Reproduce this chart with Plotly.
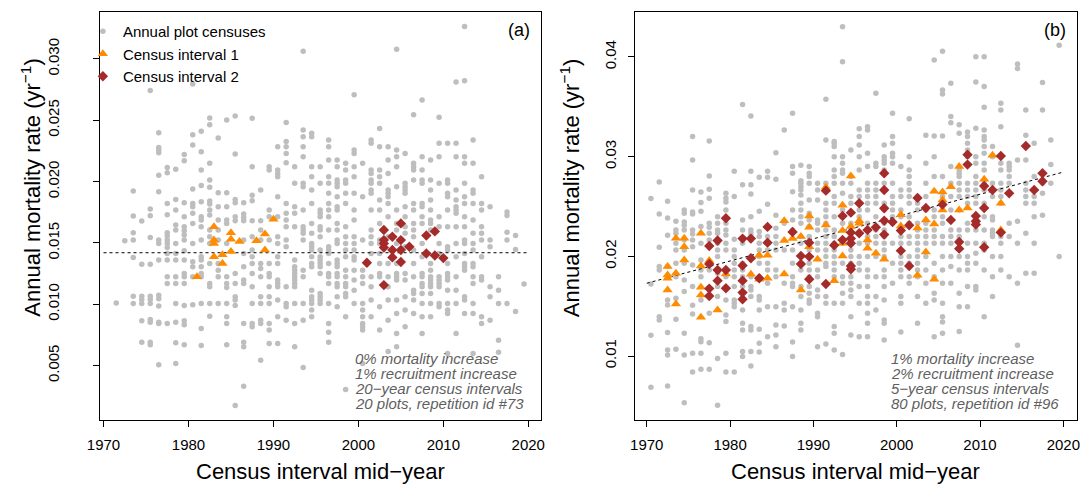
import plotly.graph_objects as go

# ---------------- Panel (a) data (mortality rates in per-mille, yr^-1 x 1000) ----------------
a_gray_years = [1971.5, 1972.5, 1973.5, 1974.5, 1975.5, 1976.5, 1977.5, 1978.5, 1979.5, 1980.5,
                1981.5, 1982.5, 1983.5, 1984.5, 1985.5, 1986.5, 1987.5, 1988.5, 1989.5, 1990.5,
                1991.5, 1992.5, 1993.5, 1994.5, 1995.5, 1996.5, 1997.5, 1998.5, 1999.5, 2000.5,
                2001.5, 2002.5, 2003.5, 2004.5, 2005.5, 2006.5, 2007.5, 2008.5, 2009.5, 2010.5,
                2011.5, 2012.5, 2013.5, 2014.5, 2015.5, 2016.5, 2017.5, 2018.5, 2019.5]
a_gray_permille = [
    [10.1],
    [15.18],
    [19.23, 17.19, 15.83, 15.23, 13.82, 10.66, 10.06],
    [16.78, 13.27, 10.66, 10.39, 10.06, 8.65, 6.91],
    [27.42, 17.76, 17.22, 15.45, 13.27, 10.66, 10.39, 10.06, 8.76, 8.54, 6.91, 6.69],
    [23.99, 22.79, 22.58, 22.36, 20.51, 19.18, 15.23, 14.96, 13.60, 10.74, 10.44, 9.85, 8.54, 8.43, 5.06],
    [21.16, 20.73, 18.22, 17.30, 15.83, 15.56, 15.23, 14.96, 14.63, 14.14, 13.60, 12.24, 11.70, 8.43],
    [21.00, 18.55, 17.68, 16.46, 16.05, 14.96, 14.14, 13.60, 12.24, 11.70, 10.06, 8.54, 6.85, 5.17],
    [22.20, 21.71, 18.28, 17.14, 16.32, 15.99, 15.64, 15.23, 14.36, 13.60, 12.51, 12.24, 11.70, 9.90, 8.65, 8.32, 6.69],
    [27.96, 23.83, 22.98, 19.39, 18.22, 17.95, 17.41, 16.59, 14.96, 13.46, 13.06, 12.24, 9.96],
    [24.10, 22.44, 20.94, 19.69, 18.36, 17.14, 16.86, 16.32, 15.23, 13.87, 13.60, 13.06, 12.51, 12.24, 10.06, 8.02, 6.64],
    [25.19, 24.64, 21.49, 20.13, 19.53, 18.41, 18.17, 17.68, 17.27, 16.05, 15.50, 14.96, 13.33, 11.70, 11.42, 10.06, 9.03],
    [23.56, 19.09, 17.95, 16.86, 16.05, 15.23, 13.33, 12.78, 12.24, 10.06],
    [25.02, 19.09, 17.95, 16.86, 16.59, 14.96, 12.24, 11.70, 11.37, 10.06, 8.98, 8.43, 6.69],
    [25.35, 22.25, 18.55, 18.28, 17.14, 16.81, 12.51, 11.70, 10.61, 10.34, 9.90, 1.74],
    [18.28, 17.35, 17.08, 16.81, 15.23, 14.14, 13.06, 11.97, 11.70, 8.43, 6.91, 6.53, 3.32],
    [25.16, 21.22, 18.88, 18.44, 16.81, 15.50, 14.42, 13.87, 13.33, 12.51, 11.42, 10.06, 8.43, 8.16],
    [19.31, 16.81, 16.05, 15.23, 13.33, 12.92, 12.24, 10.61, 10.06, 8.70, 8.43, 5.44],
    [21.22, 20.94, 17.68, 17.14, 15.23, 13.33, 12.51, 12.24, 11.42, 10.61, 10.06, 8.43, 7.89, 6.80],
    [22.85, 20.94, 20.67, 20.40, 18.77, 17.14, 15.50, 14.96, 13.87, 13.33, 11.97, 11.70, 11.42, 10.34, 8.98, 6.80],
    [24.81, 23.26, 22.85, 22.30, 21.54, 18.22, 17.41, 16.86, 16.32, 15.23, 14.69, 11.42, 10.06, 9.79, 8.70],
    [21.22, 19.86, 17.95, 17.41, 16.32, 13.60, 13.06, 12.78, 12.51, 12.24, 11.97, 11.70, 11.42, 10.06, 8.43, 6.53],
    [30.63, 24.21, 23.66, 22.85, 22.03, 19.86, 19.58, 17.68, 16.32, 16.05, 15.78, 15.23, 12.78, 12.24, 10.06, 8.70, 4.84],
    [23.94, 23.66, 21.22, 20.40, 19.31, 18.22, 16.59, 15.78, 14.96, 14.69, 14.42, 13.87, 13.33, 13.06, 11.15, 10.61, 10.34, 10.06, 9.52, 8.98],
    [21.22, 19.86, 17.68, 17.41, 17.14, 16.32, 16.05, 15.50, 14.42, 13.87, 13.60, 13.33, 13.06, 12.51, 10.88, 10.61, 10.34, 10.06],
    [23.39, 22.85, 21.76, 20.40, 19.86, 19.04, 18.22, 17.68, 17.14, 16.05, 14.69, 14.42, 14.14, 13.33, 12.51, 12.24, 11.70, 10.06, 8.43, 7.72, 6.91],
    [21.76, 21.22, 20.13, 19.86, 19.58, 18.77, 17.95, 17.68, 16.59, 16.05, 15.23, 14.96, 13.60, 13.33, 13.06, 12.51, 12.24, 11.70, 11.42, 10.61, 9.79],
    [21.49, 20.94, 20.13, 19.86, 19.04, 18.22, 16.32, 15.50, 14.96, 14.42, 13.87, 12.78, 12.24, 11.70, 11.42, 10.88, 10.61, 8.98, 3.05],
    [27.09, 22.58, 22.30, 21.22, 20.40, 19.04, 17.68, 16.86, 15.50, 14.96, 14.42, 13.87, 13.60, 12.78, 11.97, 11.15, 10.06],
    [21.49, 18.77, 15.23, 12.78, 12.24, 11.70, 10.06, 9.52, 8.98, 8.43, 8.16, 7.89, 5.17],
    [23.39, 23.12, 20.94, 20.67, 20.13, 19.86, 19.31, 19.04, 17.68, 16.05, 15.50, 14.96, 14.14, 12.24, 11.42, 10.34, 8.98],
    [24.32, 22.85, 20.94, 20.40, 19.86, 18.50, 17.68, 16.59, 15.23, 14.96, 14.14, 13.33, 12.51, 12.24, 9.79, 7.89],
    [22.85, 21.76, 20.67, 19.31, 19.04, 18.77, 18.22, 17.14, 15.50, 13.33, 12.24, 11.42, 10.34, 8.70, 6.15],
    [30.79, 22.58, 22.03, 21.22, 19.58, 17.68, 16.59, 16.05, 14.96, 13.33, 12.51, 12.24, 11.97, 10.34, 9.25, 7.62, 6.53],
    [22.30, 19.86, 19.58, 19.31, 19.04, 17.95, 17.14, 16.32, 15.78, 14.69, 12.51, 11.97, 10.61, 9.52, 8.16],
    [25.46, 21.49, 21.22, 20.94, 20.13, 18.22, 17.68, 16.59, 16.05, 15.50, 14.42, 13.33, 12.24, 11.15, 10.88, 10.34, 9.25],
    [26.66, 22.03, 20.94, 20.13, 19.86, 18.22, 17.95, 17.14, 16.59, 14.96, 13.87, 12.51, 12.24, 11.70, 11.42, 10.88, 10.06, 8.98, 7.62],
    [21.76, 20.13, 19.31, 18.50, 17.68, 16.86, 16.59, 16.05, 13.33, 12.78, 12.24, 11.97, 11.70, 11.42, 10.88, 10.06, 8.98],
    [25.24, 23.12, 22.03, 19.86, 17.14, 16.32, 14.96, 14.14, 12.24, 11.97, 11.70, 11.42, 10.06, 9.79],
    [23.12, 20.13, 19.86, 19.04, 18.77, 17.68, 16.32, 14.69, 14.42, 13.33, 12.51, 12.24, 11.97, 11.15, 10.06, 9.52, 9.25, 5.98],
    [28.12, 23.12, 22.03, 19.31, 18.50, 17.95, 17.68, 17.41, 16.32, 14.96, 13.87, 12.24, 11.15, 10.06, 7.62],
    [32.64, 28.23, 22.03, 21.49, 19.86, 18.77, 18.22, 17.14, 16.32, 15.23, 14.96, 14.14, 13.33, 13.06, 12.78, 10.61, 10.34, 9.25],
    [23.39, 21.49, 19.31, 19.04, 18.22, 16.86, 15.78, 14.96, 14.42, 13.33, 13.06, 12.24, 11.70, 10.06, 9.25, 5.98],
    [20.40, 18.22, 17.68, 16.32, 15.78, 15.23, 13.87, 12.24, 11.97, 8.98, 8.43],
    [17.95, 15.23, 14.69, 11.42, 10.61, 8.70],
    [12.24, 11.15, 10.06, 7.07, 6.09],
    [17.52, 17.24, 15.88, 15.23, 10.06],
    [15.61, 14.47, 9.41],
    [11.64],
]
a_ci1_years = [1981, 1983, 1984, 1985, 1986, 1988, 1989, 1990]
a_ci1_permille = [[12.24], [16.32, 15.23, 14.96, 13.87], [14.04, 13.33], [15.83, 15.29, 14.31],
                  [15.12], [15.18], [15.72, 14.42], [16.92]]
a_ci2_years = [2001, 2003, 2004, 2005, 2006, 2008, 2009, 2010]
a_ci2_permille = [[13.38], [16.05, 15.23, 14.96, 14.63, 11.56], [15.50, 14.42, 13.82],
                  [16.59, 15.23, 14.42, 13.44], [14.69], [15.61, 14.14], [15.94, 13.98], [13.76]]
a_trend_years = [1970, 2020]
a_trend_permille = [14.2, 14.2]

# ---------------- Panel (b) data ----------------
b_gray_years = [1970.5 + i for i in range(50)]
b_gray_permille = [
    [25.79, 17.23, 12.08, 6.86],
    [27.46, 24.25, 20.91, 18.97, 18.63, 13.95, 13.62],
    [25.52, 23.85, 22.11, 18.97, 15.62, 15.12, 12.35, 10.61, 10.11, 7.00],
    [23.52, 22.64, 22.31, 21.31, 20.64, 19.30, 17.96, 15.79, 13.68, 10.67],
    [24.65, 24.32, 23.45, 23.11, 22.64, 21.64, 20.64, 19.30, 17.63, 16.46, 12.28, 10.11, 5.32],
    [32.01, 29.67, 26.66, 24.45, 24.25, 22.64, 22.24, 21.64, 20.97, 19.13, 16.96, 15.09, 14.22, 10.27, 8.40],
    [26.46, 25.39, 24.52, 22.98, 21.31, 19.64, 18.63, 17.96, 15.62, 11.74, 11.44, 10.27, 8.67],
    [31.57, 28.06, 26.73, 25.82, 23.31, 22.91, 22.31, 21.64, 18.63, 14.29, 11.34, 8.67],
    [23.98, 23.31, 22.64, 22.31, 21.31, 20.64, 19.97, 18.30, 16.96, 15.96, 9.74, 5.06],
    [26.32, 25.82, 25.45, 24.65, 23.31, 22.64, 22.14, 21.31, 20.64, 17.96, 15.62, 14.12, 13.45, 10.27, 8.40],
    [28.53, 25.99, 21.71, 20.64, 19.97, 19.30, 18.63, 17.96, 16.96, 15.62, 15.29, 14.95, 8.40],
    [35.22, 27.19, 23.65, 22.64, 21.31, 19.30, 18.63, 17.96, 16.96, 14.62, 13.28, 12.61, 10.44, 9.94],
    [34.08, 28.53, 27.19, 26.26, 23.98, 22.64, 22.31, 21.98, 21.64, 19.97, 17.96, 16.96, 16.63, 15.96, 12.95, 12.61, 10.44, 9.00],
    [27.93, 24.52, 22.48, 21.98, 21.31, 20.64, 19.97, 19.30, 17.96, 15.96, 15.62, 14.62, 12.68, 11.28, 10.41],
    [28.53, 27.93, 25.22, 22.98, 21.98, 21.31, 20.64, 19.30, 18.63, 17.29, 14.95, 11.94],
    [30.40, 27.73, 24.12, 22.81, 21.98, 21.31, 20.64, 18.63, 17.96, 14.95, 13.12, 12.11, 10.94],
    [32.68, 23.31, 20.64, 17.29, 15.29, 14.62, 13.01],
    [34.35, 29.00, 28.33, 26.49, 24.65, 23.65, 22.64, 20.64, 19.30, 17.96, 17.29, 16.96, 14.95, 11.41, 9.94],
    [29.13, 27.59, 27.33, 26.99, 26.66, 26.16, 25.32, 24.65, 23.98, 23.31, 21.98, 21.31, 18.63, 16.96, 15.96, 14.62, 13.28, 12.61],
    [29.00, 28.33, 28.00, 27.33, 25.66, 24.32, 23.65, 22.98, 21.98, 21.31, 20.64, 19.97, 19.30, 18.63, 17.96, 16.96, 16.29, 15.62, 15.29],
    [27.33, 26.66, 25.66, 23.65, 23.31, 22.64, 21.31, 20.64, 18.63, 17.96, 16.63, 15.96, 14.29, 13.95, 10.94],
    [35.75, 31.67, 27.33, 25.32, 24.65, 23.98, 23.31, 22.64, 21.98, 21.31, 20.64, 19.97, 19.30, 18.97, 15.96, 15.29, 11.21],
    [31.51, 31.34, 31.01, 30.00, 28.67, 28.00, 27.33, 25.99, 25.32, 23.98, 22.64, 21.98, 21.31, 20.64, 19.97, 19.30, 18.63, 17.96, 15.29, 12.95, 12.28, 10.61],
    [43.04, 39.53, 30.00, 29.33, 28.67, 28.33, 27.33, 26.32, 24.65, 23.98, 23.31, 21.31, 19.30, 17.96, 17.29, 16.29, 15.29, 10.14],
    [30.67, 28.00, 27.33, 25.99, 25.32, 23.31, 22.64, 21.31, 20.64, 19.97, 19.30, 17.96, 17.29, 16.63, 15.96, 13.95, 12.11],
    [32.81, 32.01, 31.17, 30.00, 28.67, 26.66, 25.99, 24.65, 23.98, 23.31, 21.31, 19.97, 19.30, 18.63, 16.96, 15.29, 11.94],
    [33.01, 32.68, 30.34, 29.00, 27.33, 26.66, 25.99, 25.32, 24.65, 23.31, 21.98, 21.31, 19.97, 18.63, 17.96, 16.96, 15.96, 15.29, 14.29, 13.28, 11.94],
    [36.36, 29.33, 29.00, 27.33, 26.66, 25.99, 25.32, 23.98, 22.64, 21.98, 21.31, 19.97, 17.96, 15.96, 14.62],
    [31.17, 30.00, 29.67, 29.33, 28.67, 27.33, 26.66, 25.32, 24.65, 23.31, 22.64, 21.98, 21.31, 20.64, 19.97, 18.63, 17.96, 16.96, 15.62, 13.62, 13.28, 11.61],
    [34.35, 32.01, 31.34, 30.34, 30.00, 29.33, 27.33, 25.99, 25.32, 24.65, 23.98, 23.31, 21.31, 19.30, 17.29],
    [29.00, 26.66, 25.99, 24.65, 23.98, 21.98, 21.31, 19.97, 19.30, 18.63, 17.96, 15.96, 15.29, 12.41],
    [33.81, 30.00, 28.67, 28.00, 27.33, 26.66, 25.99, 25.32, 23.98, 23.31, 21.98, 21.31, 19.97, 19.30, 17.96, 17.29],
    [25.99, 25.32, 24.65, 23.31, 22.64, 21.98, 21.31, 20.64, 19.97, 19.30, 18.63, 17.96, 15.96, 13.28],
    [32.14, 29.33, 27.33, 25.99, 24.65, 23.31, 22.64, 21.98, 21.31, 19.97, 18.63, 17.29, 15.29],
    [39.70, 32.08, 30.00, 28.00, 24.65, 23.98, 22.64, 21.98, 21.31, 19.30, 17.96, 16.29, 15.62, 11.94],
    [40.57, 36.69, 36.29, 32.08, 28.00, 25.99, 23.98, 23.31, 21.98, 21.31, 19.97, 18.63, 17.29, 15.29, 13.95, 13.42, 12.28],
    [37.36, 34.02, 33.41, 29.00, 27.33, 25.99, 24.65, 22.64, 21.98, 21.31, 19.97, 18.97, 17.29],
    [33.21, 32.34, 28.67, 28.33, 28.00, 27.33, 26.66, 25.99, 24.65, 22.64, 21.98, 21.64, 19.97, 18.63, 16.29, 14.95, 12.45],
    [32.48, 32.01, 31.34, 30.67, 30.00, 27.33, 26.66, 25.99, 25.32, 23.31, 22.64, 21.31, 19.97, 19.30, 18.63, 16.96, 14.95],
    [40.03, 37.49, 32.84, 30.00, 29.33, 28.00, 27.33, 26.66, 25.99, 25.32, 23.31, 22.64, 21.31, 20.30, 19.30, 16.96, 16.63],
    [40.03, 37.03, 34.95, 32.68, 32.01, 31.67, 31.01, 30.34, 29.33, 28.67, 27.33, 26.66, 25.32, 23.98, 22.64, 21.31, 20.64, 18.63, 13.95],
    [31.01, 30.00, 27.33, 26.66, 25.99, 23.98, 23.65, 22.64, 22.31, 21.98, 19.97, 17.96, 15.96],
    [35.35, 34.68, 33.01, 29.33, 28.67, 27.33, 26.66, 25.99, 25.32, 21.98, 21.31, 19.97, 18.63],
    [29.33, 29.00, 28.67, 28.00, 27.33, 23.31, 21.98, 17.96],
    [39.30, 38.83, 29.67, 23.52, 21.31, 17.29, 11.08],
    [34.68, 32.14, 29.67, 27.33, 26.66, 25.99, 25.32, 22.31, 18.30],
    [31.34, 28.00, 25.99, 25.32, 23.98, 21.31, 18.30],
    [37.43, 34.68, 27.33, 26.32, 24.12],
    [31.67, 29.20, 27.33],
    [41.17, 19.97],
]
b_ci1_years = [1972.5, 1973.5, 1974.5, 1976.5, 1977.5, 1978.5, 1979.5, 1982.5, 1983.5, 1984.5,
               1986.5, 1987.5, 1988.5, 1989.5, 1990.5, 1991.5, 1992.5, 1993.5, 1994.5, 1995.5,
               1996.5, 1997.5, 1998.5, 2000.5, 2002.5, 2003.5, 2004.5, 2005.5, 2006.5, 2007.5,
               2008.5, 2010.5, 2011.5, 2012.5]
b_ci1_permille = [
    [18.97, 18.13, 17.80, 16.63], [21.81, 18.30, 15.22], [21.81, 20.97, 19.64],
    [22.31, 19.03, 16.89, 16.12, 13.88], [19.57], [14.62], [18.23], [18.20], [20.10, 17.70],
    [20.10, 17.80], [23.58, 21.58, 18.23], [21.78], [21.98, 16.63], [24.05, 22.91, 20.97],
    [19.70], [26.93, 23.15], [17.56], [25.12, 22.58, 21.31, 20.04], [28.06, 22.98],
    [23.58, 23.31], [21.64, 20.81], [20.30], [19.70], [24.18, 23.05], [22.85, 18.10],
    [23.65, 20.44], [26.53, 23.25, 17.70], [26.46, 25.66, 24.65], [26.99], [29.00, 24.65],
    [24.85], [27.73], [30.14], [25.32, 22.64],
]
b_ci2_years = [1977.5, 1978.5, 1979.5, 1981.5, 1982.5, 1983.5, 1984.5, 1987.5, 1988.5, 1989.5,
               1991.5, 1992.5, 1993.5, 1994.5, 1995.5, 1996.5, 1997.5, 1998.5, 1999.5, 2000.5,
               2001.5, 2002.5, 2003.5, 2005.5, 2006.5, 2007.5, 2008.5, 2009.5, 2010.5, 2011.5,
               2012.5, 2013.5, 2015.5, 2016.5, 2017.5]
b_ci2_permille = [
    [21.04, 19.23, 16.76, 16.02], [21.58, 18.63, 17.56], [23.82, 18.63, 16.79],
    [21.78, 19.07, 17.56, 16.36, 15.69], [21.78, 19.80], [17.80], [22.95, 21.37], [22.44],
    [20.04, 19.23], [21.37, 19.97, 17.70], [26.59, 17.23], [21.11], [24.05, 21.64],
    [24.38, 22.38, 21.78, 21.31, 19.03, 18.70], [25.32, 22.31], [22.64], [22.91],
    [28.33, 26.66, 24.82, 23.58, 22.18], [23.45], [22.58, 20.57], [23.11, 19.03], [25.86],
    [24.85], [25.19], [23.65], [21.44, 20.77], [30.20, 29.20], [24.05, 23.52, 23.18],
    [27.06, 24.85, 20.91], [26.66], [30.07, 22.38], [26.32], [31.07], [26.66], [28.33, 27.53],
]
b_trend_years = [1970, 2020]
b_trend_permille = [17.3, 28.45]

# ---------------- styling ----------------
FONT = "Liberation Sans, Arial, Helvetica, sans-serif"
GRAY = "#BEBEBE"
ORANGE = "#FF8C00"
RED = "#A52A2A"
W, H = 1085, 484


def flat(years, vals):
    xs, ys = [], []
    for yr, col in zip(years, vals):
        for v in col:
            xs.append(yr)
            ys.append(v / 1000.0)
    return xs, ys


fig = go.Figure()

panels = [
    ("x", "y", a_gray_years, a_gray_permille, a_ci1_years, a_ci1_permille,
     a_ci2_years, a_ci2_permille, a_trend_years, a_trend_permille, True),
    ("x2", "y2", b_gray_years, b_gray_permille, b_ci1_years, b_ci1_permille,
     b_ci2_years, b_ci2_permille, b_trend_years, b_trend_permille, False),
]
for xa, ya, gy, gv, c1y, c1v, c2y, c2v, ty, tv, leg in panels:
    x, y = flat(gy, gv)
    fig.add_trace(go.Scatter(x=x, y=y, mode="markers", xaxis=xa, yaxis=ya,
                             name="Annual plot censuses", showlegend=leg,
                             marker=dict(color=GRAY, size=5.5, symbol="circle")))
    fig.add_trace(go.Scatter(x=ty, y=[v / 1000.0 for v in tv], mode="lines", xaxis=xa, yaxis=ya,
                             showlegend=False, hoverinfo="skip",
                             line=dict(color="black", width=1, dash="3px,3px")))
    x, y = flat(c1y, c1v)
    fig.add_trace(go.Scatter(x=x, y=y, mode="markers", xaxis=xa, yaxis=ya,
                             name="Census interval 1", showlegend=leg,
                             marker=dict(color=ORANGE, size=9, symbol="triangle-up")))
    x, y = flat(c2y, c2v)
    fig.add_trace(go.Scatter(x=x, y=y, mode="markers", xaxis=xa, yaxis=ya,
                             name="Census interval 2", showlegend=leg,
                             marker=dict(color=RED, size=8, symbol="diamond")))

axis_common = dict(showline=True, mirror=True, linecolor="black", linewidth=1,
                   showgrid=False, zeroline=False, ticks="outside", ticklen=6,
                   tickcolor="black", tickwidth=1,
                   tickfont=dict(family=FONT, size=15, color="black"))

fig.update_layout(
    width=W, height=H, margin=dict(l=0, r=0, t=0, b=0),
    paper_bgcolor="white", plot_bgcolor="white",
    font=dict(family=FONT, color="black"),
    xaxis=dict(domain=[88 / W, 536 / W], range=[1969.54, 2021.45],
               tickvals=[1970, 1980, 1990, 2000, 2010, 2020], ticklabelstandoff=5,
               anchor="y", **axis_common),
    yaxis=dict(domain=[1 - 420 / H, 1 - 12 / H], range=[0.00056, 0.03383],
               tickvals=[0.005, 0.010, 0.015, 0.020, 0.025, 0.030],
               ticktext=["0.005", "0.010", "0.015", "0.020", "0.025", "0.030"],
               tickangle=-90, ticklabelstandoff=28, anchor="x", **axis_common),
    xaxis2=dict(domain=[632 / W, 1081 / W], range=[1968.6, 2021.65],
                tickvals=[1970, 1980, 1990, 2000, 2010, 2020], ticklabelstandoff=5,
                anchor="y2", **axis_common),
    yaxis2=dict(domain=[1 - 420 / H, 1 - 12 / H], range=[0.00358, 0.04451],
                tickvals=[0.01, 0.02, 0.03, 0.04],
                ticktext=["0.01", "0.02", "0.03", "0.04"],
                tickangle=-90, ticklabelstandoff=6, anchor="x2", **axis_common),
    legend=dict(x=71 / W, y=1 - 15 / H, xanchor="left", yanchor="top",
                bgcolor="rgba(0,0,0,0)", borderwidth=0, tracegroupgap=0,
                font=dict(family=FONT, size=15, color="black")),
    showlegend=True,
)

ann = []
# axis titles
for cx in (18, 566):
    ann.append(dict(x=cx / W, y=1 - 188 / H, xref="paper", yref="paper", showarrow=False,
                    xanchor="center", yanchor="middle",
                    text="Annual mortality rate (yr<sup>−1</sup>)", textangle=-90,
                    font=dict(family=FONT, size=22, color="black")))
for cx in (312, 856):
    ann.append(dict(x=cx / W, y=1 - 471 / H, xref="paper", yref="paper", showarrow=False,
                    xanchor="center", yanchor="middle",
                    text="Census interval mid−year",
                    font=dict(family=FONT, size=22, color="black")))
# panel tags
ann.append(dict(x=527 / W, y=1 - 30 / H, xref="paper", yref="paper", showarrow=False,
                xanchor="right", yanchor="middle", text="(a)",
                font=dict(family=FONT, size=18, color="black")))
ann.append(dict(x=1072 / W, y=1 - 30 / H, xref="paper", yref="paper", showarrow=False,
                xanchor="right", yanchor="middle", text="(b)",
                font=dict(family=FONT, size=18, color="black")))
# scenario descriptions
a_lines = ["0% mortality increase", "1% recruitment increase",
           "20−year census intervals", "20 plots, repetition id #73"]
b_lines = ["1% mortality increase", "2% recruitment increase",
           "5−year census intervals", "80 plots, repetition id #96"]
for lx, lines in ((345, a_lines), (890, b_lines)):
    for i, t in enumerate(lines):
        ann.append(dict(x=lx / W, y=1 - (358 + 15 * i) / H, xref="paper", yref="paper",
                        showarrow=False, xanchor="left", yanchor="middle",
                        text="<i>" + t + "</i>",
                        font=dict(family=FONT, size=15, color="#5f5f5f")))
fig.update_layout(annotations=ann)

fig.write_html("out.html")
